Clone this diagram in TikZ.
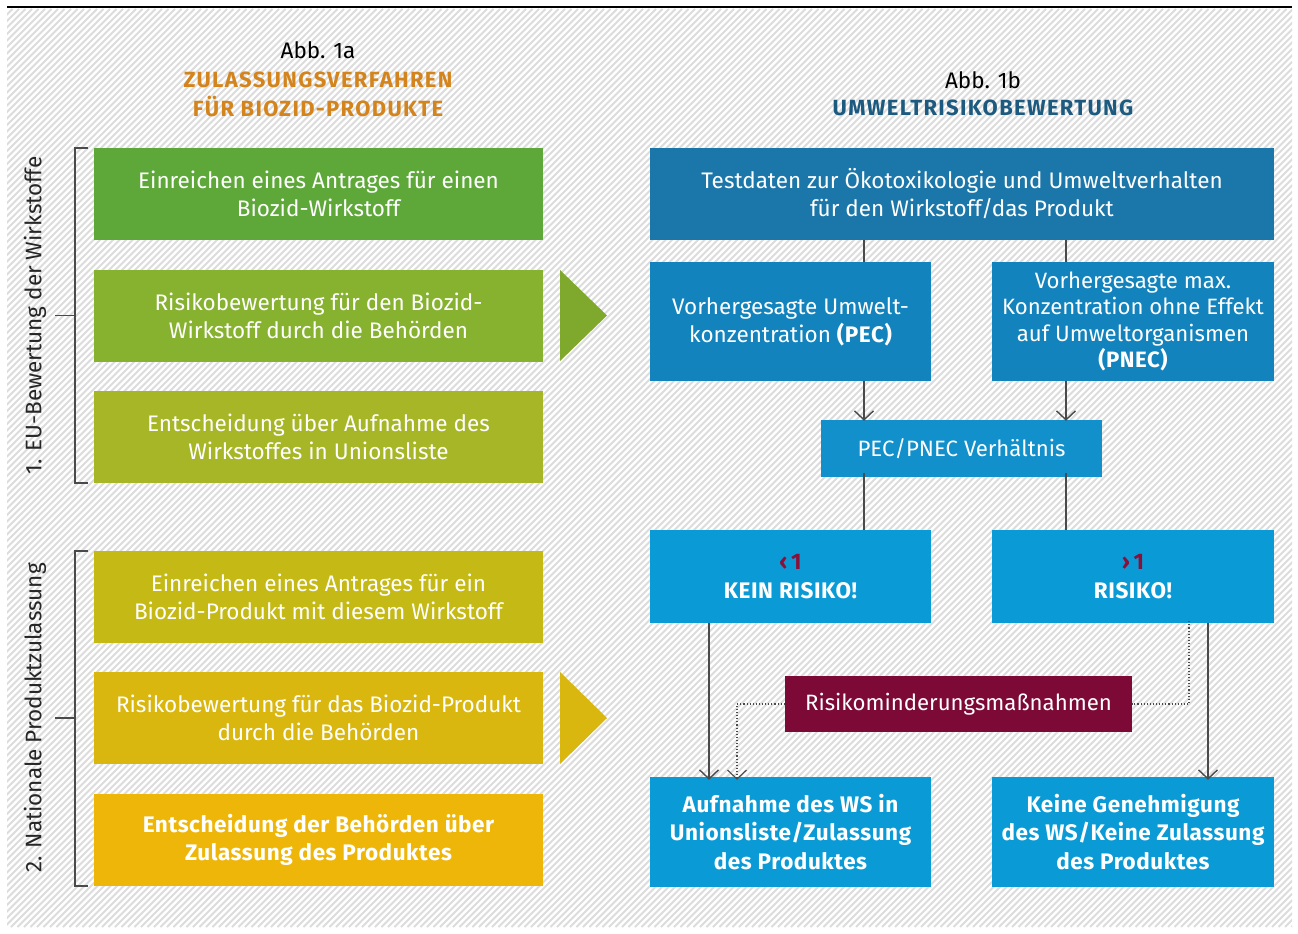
\documentclass[tikz,border=0pt]{standalone}
\usepackage{fontspec}
\setmainfont{Fira Sans}
\newfontfamily\spaced{Fira Sans}[LetterSpace=2.5]
\newfontfamily\spacedT{Fira Sans}[LetterSpace=6]
\usetikzlibrary{arrows.meta}
\definecolor{hatch}{HTML}{DCDCDC}
\definecolor{gA}{HTML}{5EA83A}
\definecolor{gB}{HTML}{86B22F}
\definecolor{gC}{HTML}{A6B626}
\definecolor{gD}{HTML}{C4B915}
\definecolor{gE}{HTML}{D9B70F}
\definecolor{gF}{HTML}{EFB60A}
\definecolor{bTop}{HTML}{1B77A9}
\definecolor{bMid}{HTML}{1283BD}
\definecolor{bRat}{HTML}{1190CB}
\definecolor{bLow}{HTML}{0A9BD6}
\definecolor{maroon}{HTML}{7D0A36}
\definecolor{redsym}{HTML}{8B1038}
\definecolor{orangeT}{HTML}{D4841C}
\definecolor{blueT}{HTML}{1D5A7F}
\definecolor{lineG}{HTML}{4A4A4A}
\newcommand{\txt}{\fontsize{22.5}{28}\selectfont}
\newcommand{\txtr}{\fontsize{22.2}{26.5}\selectfont}
\newcommand{\txtb}{\spaced\bfseries\fontsize{22.5}{28.5}\selectfont}
\begin{document}
\begin{tikzpicture}[x=1pt,y=-1pt,
  lbox/.style={fill=#1, text=white, minimum width=449, minimum height=92, inner sep=0, align=center, font=\txt},
  rbox/.style={fill=#1, text=white, inner sep=0, align=center, font=\txtr},
  conn/.style={draw=lineG, line width=1.4},
  arr/.style={conn, -{Straight Barb[length=9,width=19,line width=1.4]}},
  dot/.style={draw=lineG, line width=1.1, dotted},
  brk/.style={draw=lineG, line width=1.4},
  sidelab/.style={rotate=90, font=\fontsize{22.5}{24}\selectfont, text=black!85},
]
\useasboundingbox (0,0) rectangle (1298,934);
\fill[white] (0,0) rectangle (1298,934);
% hatched background
\begin{scope}
\clip (7,9) rectangle (1292,927);
\foreach \a in {-912,-905.5,...,1292} {
  \draw[hatch, line width=2] (\a,927) -- ++(918,-918);
}
\end{scope}
\draw[black, line width=1.8] (7,7) -- (1292,7);

% titles
\node[font=\fontsize{22.5}{24}\selectfont] (t1a) at (318,50) {Abb. 1a};
\node[font=\spacedT\bfseries\fontsize{22}{29}\selectfont, text=orangeT, align=center] (t1b) at (318,94) {ZULASSUNGSVERFAHREN\\FÜR BIOZID-PRODUKTE};
\node[font=\fontsize{22.5}{24}\selectfont] (t2a) at (983,80) {Abb. 1b};
\node[font=\spacedT\bfseries\fontsize{22}{24}\selectfont, text=blueT] (t2b) at (983,108) {UMWELTRISIKOBEWERTUNG};

% left boxes
\node[lbox=gA] (l1) at (318.5,194) {Einreichen eines Antrages für einen\\Biozid-Wirkstoff};
\node[lbox=gB] (l2) at (318.5,315.5) {Risikobewertung für den Biozid-\\Wirkstoff durch die Behörden};
\node[lbox=gC] (l3) at (318.5,437) {Entscheidung über Aufnahme des\\Wirkstoffes in Unionsliste};
\node[lbox=gD] (l4) at (318.5,596.5) {Einreichen eines Antrages für ein\\Biozid-Produkt mit diesem Wirkstoff};
\node[lbox=gE] (l5) at (318.5,718) {Risikobewertung für das Biozid-Produkt\\durch die Behörden};
\node[lbox=gF, font=\txtb] (l6) at (318.5,840) {Entscheidung der Behörden über\\Zulassung des Produktes};

% triangles
\fill[gB!95!black] (560,270) -- (607,315.5) -- (560,361) -- cycle;
\fill[gE] (560,672) -- (607,718) -- (560,764) -- cycle;

% brackets
\draw[brk] (88,148) -- (75,148) -- (75,483) -- (88,483);
\draw[brk] (55,315.5) -- (75,315.5);
\draw[brk] (88,551) -- (75,551) -- (75,886) -- (88,886);
\draw[brk] (55,718) -- (75,718);
\node[sidelab] (s1) at (35,315.5) {1. EU-Bewertung der Wirkstoffe};
\node[sidelab] (s2) at (35,718) {2. Nationale Produktzulassung};

% right boxes
\node[rbox=bTop, minimum width=624, minimum height=92, font=\txt] (top) at (962,194) {Testdaten zur Ökotoxikologie und Umweltverhalten\\für den Wirkstoff/das Produkt};
\node[rbox=bMid, minimum width=281, minimum height=119, font=\txt] (pec) at (790.5,321.5) {Vorhergesagte Umwelt-\\konzentration {\spaced\bfseries(PEC)}};
\node[rbox=bMid, minimum width=282, minimum height=119] (pnec) at (1133,321.5) {Vorhergesagte max.\\Konzentration ohne Effekt\\auf Umweltorganismen\\{\spaced\bfseries(PNEC)}};
\node[rbox=bRat, minimum width=281, minimum height=57] (ratio) at (961.5,448.5) {PEC/PNEC Verhältnis};
\node[rbox=bLow, minimum width=281, minimum height=93, font=\spaced\bfseries\fontsize{22.5}{29}\selectfont] (kein) at (790.5,576.5) {\textcolor{redsym}{‹\,1}\\KEIN RISIKO!};
\node[rbox=bLow, minimum width=282, minimum height=93, font=\spaced\bfseries\fontsize{22.5}{29}\selectfont] (ris) at (1133,576.5) {\textcolor{redsym}{›\,1}\\RISIKO!};
\node[rbox=maroon, minimum width=347, minimum height=56] (mind) at (958.5,704) {Risikominderungsmaßnahmen};
\node[rbox=bLow, minimum width=281, minimum height=110, font=\txtb] (auf) at (790.5,832) {Aufnahme des WS in\\Unionsliste/Zulassung\\des Produktes};
\node[rbox=bLow, minimum width=282, minimum height=110, font=\txtb] (keine) at (1133,832) {Keine Genehmigung\\des WS/Keine Zulassung\\des Produktes};

% connector x positions
\coordinate (xL) at (864,0);
\coordinate (xR) at (1066,0);
\coordinate (xA) at (709,0);
\coordinate (xD) at (737,0);
\coordinate (xE) at (1189,0);
\coordinate (xF) at (1208,0);

\draw[conn] (top.south -| xL) -- (pec.north -| xL);
\draw[conn] (top.south -| xR) -- (pnec.north -| xR);
\draw[arr] (pec.south -| xL) -- ([yshift=-1]ratio.north -| xL);
\draw[arr] (pnec.south -| xR) -- ([yshift=-1]ratio.north -| xR);
\draw[conn] ([yshift=4]ratio.south -| xL) -- (kein.north -| xL);
\draw[conn] ([yshift=4]ratio.south -| xR) -- (ris.north -| xR);
\draw[arr] (kein.south -| xA) -- ([yshift=-3]auf.north -| xA);
\draw[arr] (ris.south -| xF) -- ([yshift=-3]keine.north -| xF);
\draw[dot] ([yshift=2]ris.south -| xE) |- (mind.east);
\draw[dot, -{Straight Barb[length=9,width=19,line width=1.1]}] (mind.west) -| ([yshift=-3]auf.north -| xD);
\end{tikzpicture}
\end{document}
